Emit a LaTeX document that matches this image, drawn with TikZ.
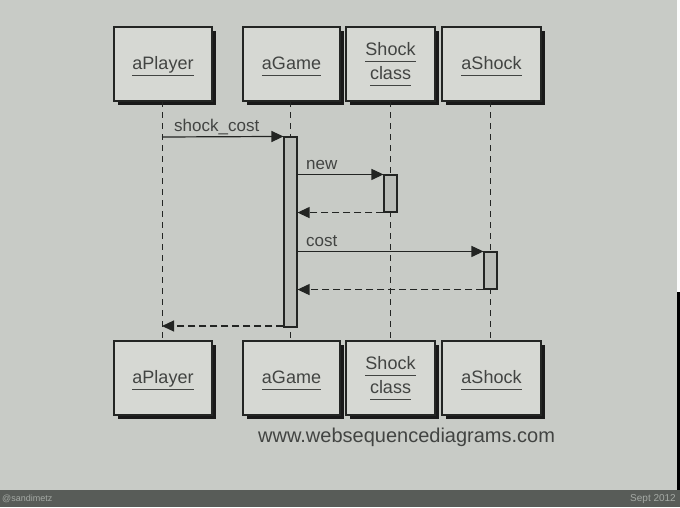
\documentclass[tikz,border=0pt]{standalone}
\usepackage{fontspec}
\setmainfont{Liberation Sans}
\usetikzlibrary{arrows.meta,shadows}
\definecolor{bg}{RGB}{200,203,198}
\definecolor{boxfill}{RGB}{214,216,211}
\definecolor{actfill}{RGB}{186,189,184}
\definecolor{ink}{RGB}{66,68,66}
\definecolor{linecol}{RGB}{35,37,35}
\definecolor{barcol}{RGB}{88,92,88}
\definecolor{bartext}{RGB}{165,170,165}
\newcommand{\ul}[1]{\underline{#1\rule[-4.5pt]{0pt}{4.5pt}}}
\tikzset{
  actor/.style={draw=linecol, line width=1.3pt, fill=boxfill, minimum height=74pt,
    text=ink, font=\fontsize{18}{21}\selectfont, align=center,
    drop shadow={shadow xshift=4pt, shadow yshift=-4pt, fill=black!90, opacity=1}},
  single/.style={text height=15pt, text depth=5pt},
  lifeline/.style={draw=linecol, line width=1pt, dash pattern=on 6pt off 5pt},
  actbox/.style={draw=linecol, line width=1.1pt, fill=actfill, minimum width=13pt, inner sep=0pt},
  msg/.style={draw=linecol, line width=1.2pt, -{Triangle[length=12pt,width=11pt]}},
  ret/.style={draw=linecol, line width=1.2pt, dash pattern=on 7pt off 4pt, -{Triangle[length=12pt,width=11pt]}},
  lbl/.style={text=ink, font=\fontsize{17}{20}\selectfont, inner sep=0pt, anchor=base west}
}
\begin{document}
\begin{tikzpicture}[x=1pt,y=-1pt]
\fill[bg] (0,0) rectangle (680,490);
\useasboundingbox (0,0) rectangle (680,507);
\fill[barcol] (0,490) rectangle (680,507);
\fill[white!95!bg] (677,0) rectangle (680,292);
\fill[black] (677,292) rectangle (680,490);
\node[text=bartext, font=\fontsize{9}{10}\selectfont, anchor=west, inner sep=0pt] (au) at (2,499) {@sandimetz};
\node[text=bartext, font=\fontsize{10}{11}\selectfont, anchor=east, inner sep=0pt] (dt) at (676,499) {Sept 2012};

% top actors
\node[actor, single, minimum width=98pt] (p1) at (163,64) {\ul{aPlayer}};
\node[actor, single, minimum width=97pt] (g1) at (291.5,64) {\ul{aGame}};
\node[actor, minimum width=89pt] (s1) at (390.5,64) {\ul{Shock}\\[3.5pt]\ul{class}};
\node[actor, single, minimum width=99pt] (a1) at (491.5,64) {\ul{aShock}};
% bottom actors
\node[actor, single, minimum width=98pt] (p2) at (163,378) {\ul{aPlayer}};
\node[actor, single, minimum width=97pt] (g2) at (291.5,378) {\ul{aGame}};
\node[actor, minimum width=89pt] (s2) at (390.5,378) {\ul{Shock}\\[3.5pt]\ul{class}};
\node[actor, single, minimum width=99pt] (a2) at (491.5,378) {\ul{aShock}};

% lifelines
\draw[lifeline] (162,101) -- (162,341);
\draw[lifeline] (290.5,101) -- (290.5,341);
\draw[lifeline] (390.5,101) -- (390.5,341);
\draw[lifeline] (490.5,101) -- (490.5,341);

% activations
\node[actbox, minimum height=190pt] (ga) at (290.5,232) {};
\node[actbox, minimum height=37pt] (sa) at (390.5,193.5) {};
\node[actbox, minimum height=37pt] (aa) at (490.5,270.5) {};
\coordinate (pstart) at (162,137);
\coordinate (pend) at (162,326);

% messages
\draw[msg] (pstart) -- (ga.north west);
\node[lbl] (l1) at (174,131) {shock\_cost};
\draw[msg] (ga.east |- sa.north) -- (sa.north west);
\node[lbl] (l2) at (306,169) {new};
\draw[ret] (sa.south west) -- (ga.east |- sa.south);
\draw[msg] (ga.east |- aa.north) -- (aa.north west);
\node[lbl] (l3) at (306,246) {cost};
\draw[ret] (aa.south west) -- (ga.east |- aa.south);
\draw[ret] (ga.west |- pend) -- (pend);

\node[text=ink, font=\fontsize{20}{24}\selectfont, anchor=base west, inner sep=0pt] (url) at (258,442) {www.websequencediagrams.com};
\end{tikzpicture}
\end{document}
